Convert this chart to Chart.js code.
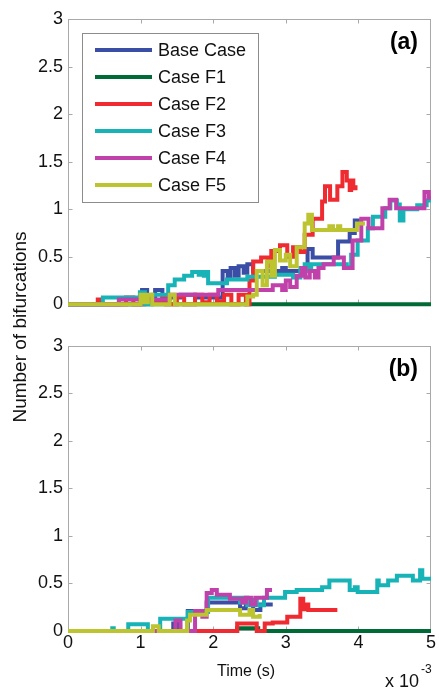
<!DOCTYPE html>
<html><head><meta charset="utf-8">
<script src="https://cdn.jsdelivr.net/npm/chart.js@4.4.1/dist/chart.umd.min.js"></script>
<style>
html,body{margin:0;padding:0;background:#fff;}
#wrap{position:relative;width:439px;height:688px;overflow:hidden;font-family:"Liberation Sans",Arial,Helvetica,sans-serif;color:#111;}
canvas{position:absolute;left:0;}
#ca{top:0;}
#cb{top:330px;}
.lbl{position:absolute;white-space:nowrap;color:#111;}
#ylab{left:-130px;top:317px;width:300px;height:20px;line-height:20px;text-align:center;font-size:19px;transform:rotate(-90deg);}
#xlab{left:146px;top:661px;width:200px;line-height:20px;text-align:center;font-size:16px;}
#xexp{left:385px;top:672px;line-height:18px;font-size:18px;}
#xexp2{left:421px;top:663px;line-height:12px;font-size:12px;}
</style></head><body>
<div id="wrap">
<canvas id="ca" width="439" height="320" style="width:439px;height:320px"></canvas>
<canvas id="cb" width="439" height="358" style="width:439px;height:358px"></canvas>
<div class="lbl" id="ylab">Number of bifurcations</div>
<div class="lbl" id="xlab">Time (s)</div>
<div class="lbl" id="xexp">x 10</div>
<div class="lbl" id="xexp2">-3</div>
</div>
<script>
// ---------- data (time in units of 10^-3 s) ----------
const seriesNames = ['Base Case','Case F1','Case F2','Case F3','Case F4','Case F5'];
const xTickValues = [0,1,2,3,4,5];
const xTickLabels = ['0','1','2','3','4','5'];
const yTickValues = [0,0.5,1,1.5,2,2.5,3];
const yTickLabels = ['0','0.5','1','1.5','2','2.5','3'];

// Panel (a)
const baseA_t = [0,1.0,1.02,1.09,1.20,1.30,1.55,1.75,2.13,2.20,2.24,2.30,2.35,2.42,2.47,2.55,2.95,3.0,3.30,3.37,3.72,3.88,3.95,4.02];
const baseA_v = [0,0.07,0.15,0.07,0.15,0.07,0.1,0.07,0.35,0.28,0.38,0.3,0.4,0.33,0.42,0.35,0.38,0.35,0.58,0.49,0.66,0.75,0.88,0.88];
const f1A_t = [0,5];
const f1A_v = [0,0];
const f2A_t = [0,0.41,0.45,0.8,0.9,1.05,1.15,1.3,1.35,1.5,1.6,1.75,1.85,1.95,2.05,2.15,2.25,2.35,2.45,2.5,2.55,2.66,2.75,2.8,2.92,3.02,3.1,3.2,3.26,3.37,3.5,3.54,3.61,3.71,3.78,3.84,3.88,3.9,3.93,3.96];
const f2A_v = [0,0.05,0,0.07,0,0.07,0.03,0.08,0,0.08,0,0.1,0.02,0.1,0.03,0.1,0,0.1,0,0.25,0.45,0.49,0.4,0.56,0.62,0.5,0.6,0.55,0.73,0.9,1.08,1.24,1.1,1.24,1.39,1.3,1.2,1.3,1.22,1.25];
const f3A_t = [0,0.48,0.99,1.06,1.16,1.38,1.47,1.6,1.71,1.80,1.84,1.87,1.90,1.93,2.19,2.47,2.85,3.1,3.2,3.26,3.3,3.35,3.84,3.90,3.99,4.13,4.20,4.37,4.44,4.53,4.57,4.62,4.81,4.94,5.0];
const f3A_v = [0,0.07,0.125,0,0.1,0.2,0.26,0.3,0.34,0.31,0.34,0.3,0.34,0.22,0.26,0.29,0.31,0.28,0.38,0.42,0.35,0.42,0.39,0.52,0.67,0.8,0.92,1.01,1.09,1.05,0.88,1.0,1.04,1.09,1.09];
const f4A_t = [0,0.7,1.4,2.07,2.82,2.95,3.0,3.06,3.15,3.22,3.27,3.33,3.40,3.45,3.52,3.66,3.80,3.92,4.04,4.14,4.33,4.43,4.52,4.91,4.97,5.0];
const f4A_v = [0,0.05,0.1,0.15,0.2,0.15,0.25,0.18,0.3,0.38,0.28,0.35,0.28,0.38,0.42,0.49,0.38,0.67,0.9,0.8,1.01,1.1,1.01,1.18,1.12,1.12];
const f5A_t = [0,1.0,1.05,1.1,1.16,1.40,1.47,2.47,2.55,2.6,2.68,2.74,2.80,2.85,2.92,3.0,3.06,3.15,3.26,3.31,3.36,3.6,3.65,3.72,3.75,3.98,4.09];
const f5A_v = [0,0.1,0.02,0.1,0,0.1,0,0.08,0.1,0.35,0.2,0.45,0.3,0.57,0.46,0.52,0.4,0.6,0.85,0.94,0.78,0.82,0.78,0.82,0.78,0.85,0.85];

// Panel (b)
const baseB_t = [0,1.45,1.52,1.65,1.91,2.37,2.45,2.55,2.65,2.82];
const baseB_v = [0,0.08,0,0.21,0.3,0.24,0.3,0.22,0.28,0.28];
const f1B_t = [0,2.33,2.62,5];
const f1B_v = [0,0.03,0,0];
const f2B_t = [0,2.33,2.6,2.71,2.82,3.02,3.2,3.24,3.27,3.31,3.71];
const f2B_v = [0,0.08,0,0.08,0.09,0.15,0.34,0.23,0.28,0.22,0.22];
const f3B_t = [0,0.61,0.63,0.83,1.10,1.27,1.65,1.93,2.37,2.42,2.47,2.55,2.6,2.7,2.99,3.15,3.5,3.6,3.88,3.95,3.99,4.26,4.28,4.41,4.53,4.75,4.85,4.88,5.0];
const f3B_v = [0,0.03,0,0.07,0,0.13,0.2,0.35,0.3,0.35,0.27,0.33,0.27,0.35,0.41,0.43,0.46,0.53,0.43,0.46,0.41,0.53,0.48,0.53,0.58,0.53,0.64,0.55,0.55];
const f4B_t = [0,1.48,1.55,1.75,1.85,1.91,1.98,2.05,2.23,2.4,2.45,2.52,2.58,2.74,2.81];
const f4B_v = [0,0.11,0,0.21,0.15,0.4,0.43,0.38,0.34,0.3,0.35,0.28,0.35,0.43,0.43];
const f5B_t = [0,1.17,1.25,1.64,1.68,1.91,2.37,2.50,2.55,2.64];
const f5B_v = [0,0.05,0,0.11,0.17,0.22,0.17,0.22,0.15,0.18];

// ---------- styling ----------
const COLORS = ['#3a4ea6','#006b36','#ef2a30','#17b3b7','#c041aa','#bcc42f'];
const FONT = '"Liberation Sans", Arial, Helvetica, sans-serif';

function pts(t, v){ return t.map((x,i)=>({x:x, y:v[i]})); }

const framePlugin = {
  id:'frame',
  beforeDatasetsDraw(chart){
    const {ctx, chartArea:a, scales} = chart;
    const L=Math.round(a.left)+0.5, R=Math.round(a.right)-0.5, T=Math.round(a.top)+0.5, B=Math.round(a.bottom)-0.5;
    ctx.save();
    ctx.strokeStyle='#a9a9a9'; ctx.lineWidth=1;
    ctx.strokeRect(L,T,R-L,B-T);
    ctx.beginPath();
    xTickValues.slice(1,-1).forEach(v=>{
      const px=Math.round(scales.x.getPixelForValue(v))+0.5;
      ctx.moveTo(px,B); ctx.lineTo(px,B-4);
      ctx.moveTo(px,T); ctx.lineTo(px,T+4);
    });
    yTickValues.slice(1,-1).forEach(v=>{
      const py=Math.round(scales.y.getPixelForValue(v))+0.5;
      ctx.moveTo(L,py); ctx.lineTo(L+4,py);
      ctx.moveTo(R,py); ctx.lineTo(R-4,py);
    });
    ctx.stroke();
    ctx.restore();
  },
  afterDatasetsDraw(chart, args, opts){
    const {ctx, chartArea:a} = chart;
    ctx.save();
    ctx.fillStyle='#000';
    ctx.font='bold 23px '+FONT;
    ctx.textAlign='right'; ctx.textBaseline='middle';
    ctx.fillText(opts.tag, a.right-13, a.top+24);
    if (opts.legend){
      const bx=82, by=33, bw=176, bh=169;
      ctx.fillStyle='#fff';
      ctx.fillRect(bx,by,bw,bh);
      ctx.strokeStyle='#8c8c8c'; ctx.lineWidth=1;
      ctx.strokeRect(bx+0.5,by+0.5,bw,bh);
      ctx.font='18px '+FONT; ctx.textAlign='left'; ctx.textBaseline='middle';
      chart.data.datasets.forEach((ds,i)=>{
        const y=50+27*i;
        ctx.strokeStyle=ds.borderColor; ctx.lineWidth=4;
        ctx.beginPath(); ctx.moveTo(95,y); ctx.lineTo(152,y); ctx.stroke();
        ctx.fillStyle='#111';
        ctx.fillText(ds.label,158,y+1);
      });
    }
    ctx.restore();
  }
};

function makeChart(id, series, showX, padTop, xH, tag, legend){
  const datasets = series.map((s,i)=>({
    label: seriesNames[i],
    data: pts(s[0], s[1]),
    borderColor: COLORS[i],
    backgroundColor: COLORS[i],
    borderWidth: 4,
    pointRadius: 0,
    stepped: 'before',
    fill: false,
    clip: 4,
    order: series.length - i
  }));
  return new Chart(document.getElementById(id), {
    type:'line',
    data:{datasets},
    plugins:[framePlugin],
    options:{
      responsive:false, animation:false, devicePixelRatio:1,
      layout:{padding:{top:padTop, right:8, left:0, bottom:0}},
      plugins:{legend:{display:false}, tooltip:{enabled:false}, frame:{tag, legend}},
      scales:{
        x:{type:'linear', min:0, max:5,
           afterBuildTicks:s=>{ s.ticks = xTickValues.map(v=>({value:v})); },
           afterFit:s=>{ s.height = xH; },
           ticks:{display:showX, padding:1, autoSkip:false, maxRotation:0, color:'#111',
                  font:{family:FONT, size:18}, callback:(v,i)=>xTickLabels[i]},
           grid:{display:false, drawTicks:false}, border:{display:false}},
        y:{type:'linear', min:0, max:3,
           afterBuildTicks:s=>{ s.ticks = yTickValues.map(v=>({value:v})); },
           afterFit:s=>{ s.width = 68; },
           ticks:{padding:5, autoSkip:false, color:'#111',
                  font:{family:FONT, size:18}, callback:(v,i)=>yTickLabels[i]},
           grid:{display:false, drawTicks:false}, border:{display:false}}
      }
    }
  });
}

makeChart('ca', [[baseA_t,baseA_v],[f1A_t,f1A_v],[f2A_t,f2A_v],[f3A_t,f3A_v],[f4A_t,f4A_v],[f5A_t,f5A_v]], false, 19, 13, '(a)', true);
makeChart('cb', [[baseB_t,baseB_v],[f1B_t,f1B_v],[f2B_t,f2B_v],[f3B_t,f3B_v],[f4B_t,f4B_v],[f5B_t,f5B_v]], true, 13, 57, '(b)', false);
</script>
</body></html>
